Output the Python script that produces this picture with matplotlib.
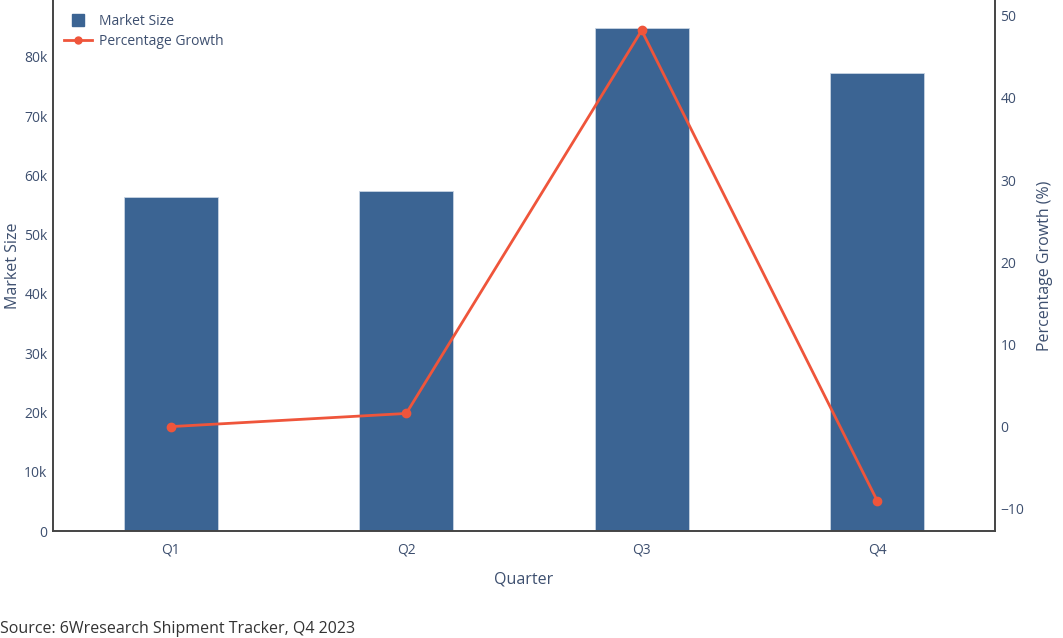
import matplotlib.pyplot as plt
from matplotlib.lines import Line2D
from matplotlib.ticker import FuncFormatter

plt.rcParams['font.family'] = ['Open Sans', 'DejaVu Sans']

quarters = ['Q1', 'Q2', 'Q3', 'Q4']
market_size = [56400, 57400, 84900, 77300]
growth = [0.0, 1.6, 48.2, -9.0]

text_color = '#3d4f6f'
bar_color = '#3b6493'
line_color = '#ef553b'

fig = plt.figure(figsize=(10.63, 6.38), dpi=100)
ax = fig.add_axes([0.0499, 0.1677, 0.886, 0.8323])
ax2 = ax.twinx()

x = range(len(quarters))
ax.bar(x, market_size, width=0.4, color=bar_color, edgecolor='#c8d4e3',
       linewidth=0.6, zorder=2)
ax2.plot(x, growth, color=line_color, linewidth=2, marker='o', markersize=6, zorder=3)

ax.set_xlim(-0.5, 3.5)
ax.set_ylim(0, 89600)
ax2.set_ylim(-12.7, 51.9)
ax.set_xticks(list(x))
ax.set_xticklabels(quarters)
ax.set_yticks(range(0, 80001, 10000))
ax.yaxis.set_major_formatter(FuncFormatter(lambda v, p: '0' if v == 0 else f'{int(v/1000)}k'))
ax2.set_yticks(range(-10, 51, 10))
ax2.set_yticklabels(['\u221210'] + [str(v) for v in range(0, 51, 10)])

for a in (ax, ax2):
    a.spines['top'].set_visible(False)
    for s in ('left', 'right', 'bottom'):
        a.spines[s].set_color('#444444')
        a.spines[s].set_linewidth(1.2)
    a.tick_params(length=0, labelsize=10, colors=text_color)
ax.tick_params(axis='x', pad=8)
ax.tick_params(axis='y', pad=4)
ax2.tick_params(axis='y', pad=4)

ax.set_xlabel('Quarter', fontsize=11.5, color=text_color, labelpad=10)
ax.set_ylabel('Market Size', fontsize=11.5, color=text_color)
ax.yaxis.set_label_coords(-0.034, 0.5)
ax2.set_ylabel('Percentage Growth (%)', fontsize=11.5, color=text_color, labelpad=9)

handles = [Line2D([], [], linestyle='none', marker='s', markersize=9, color=bar_color),
           Line2D([], [], color=line_color, linewidth=2, marker='o', markersize=5)]
leg = ax2.legend(handles, ['Market Size', 'Percentage Growth'], loc='upper left',
                 bbox_to_anchor=(0.0, 0.995), frameon=False, fontsize=10,
                 handlelength=2.0, handletextpad=0.5, labelspacing=0.35,
                 borderaxespad=0.4)
for t in leg.get_texts():
    t.set_color(text_color)

fig.text(0.0, 0.002, 'Source: 6Wresearch Shipment Tracker, Q4 2023', fontsize=11.5,
         color='#333333', ha='left', va='bottom')

fig.savefig('out.png', dpi=100)
